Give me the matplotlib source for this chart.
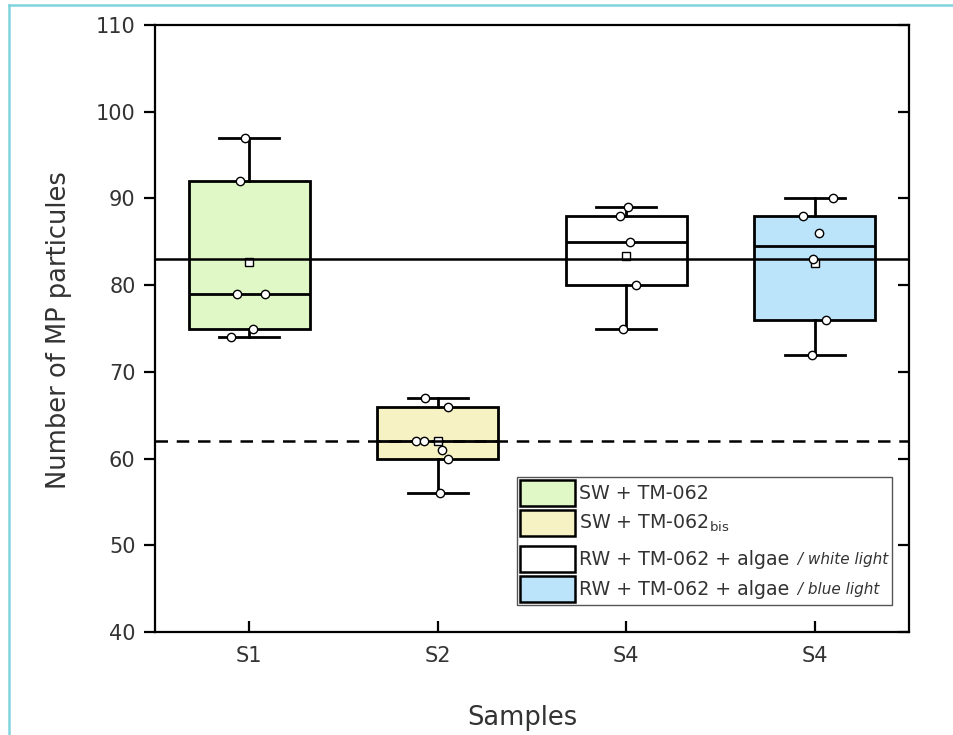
import numpy as np
import matplotlib
matplotlib.use("Agg")
import matplotlib.pyplot as plt
from matplotlib.lines import Line2D
from matplotlib.patches import Rectangle
from matplotlib.offsetbox import (TextArea, DrawingArea, HPacker, VPacker,
                                  AnchoredOffsetbox)

# --- data ---
labels = ["S1", "S2", "S4", "S4"]
s1 = [97, 92, 79, 79, 75, 74]
s2 = [67, 66, 62, 62, 61, 60, 56]
s4_white = [89, 88, 85, 80, 75]
s4_blue = [90, 88, 86, 83, 76, 72]
# horizontal offsets of the dots (as seen in the figure)
jit1 = [-0.02, -0.05, -0.065, 0.085, 0.02, -0.095]
jit2 = [-0.07, 0.055, -0.115, -0.075, 0.025, 0.055, 0.01]
jit3 = [0.01, -0.035, 0.02, 0.05, -0.015]
jit4 = [0.095, -0.06, 0.02, -0.01, 0.06, -0.015]

q1 = [75, 60, 80, 76]
med = [79, 62, 85, 84.5]
q3 = [92, 66, 88, 88]
whislo = [74, 56, 75, 72]
whishi = [97, 67, 89, 90]

ref_solid = 83
ref_dashed = 62

legend_main = ["SW + TM-062", "SW + TM-062$_{\\mathregular{bis}}$",
               "RW + TM-062 + algae", "RW + TM-062 + algae"]
legend_extra = ["", "", " / white light", " / blue light"]

colors = ["#E0F8C6", "#F6F2C4", "#FFFFFF", "#BBE4FB"]
txt_col = "#333333"

plt.rcParams['font.family'] = ['DejaVu Sans']

fig = plt.figure(figsize=(9.54, 7.35), dpi=100)
ax = fig.add_axes([155/954, 1-632/735, (909-155)/954, (632-25)/735])

groups = [s1, s2, s4_white, s4_blue]
jits = [jit1, jit2, jit3, jit4]
stats = []
for i, g in enumerate(groups):
    stats.append(dict(med=med[i], q1=q1[i], q3=q3[i], whislo=whislo[i],
                      whishi=whishi[i], mean=np.mean(g), fliers=[]))

pos = np.arange(1, 5)
bp = ax.bxp(stats, positions=pos, widths=0.64, capwidths=0.32,
            patch_artist=True, showmeans=True, showfliers=False,
            boxprops=dict(linewidth=2, edgecolor='black'),
            medianprops=dict(color='black', linewidth=2),
            whiskerprops=dict(color='black', linewidth=2),
            capprops=dict(color='black', linewidth=2),
            meanprops=dict(marker='s', markerfacecolor='white',
                           markeredgecolor='black', markersize=6,
                           markeredgewidth=1))
for patch, c in zip(bp['boxes'], colors):
    patch.set_facecolor(c)

ax.axhline(ref_solid, color='black', lw=1.8, zorder=3)
ax.axhline(ref_dashed, color='black', lw=1.8, ls=(0, (5, 3.5)), zorder=3)

for p, g, j in zip(pos, groups, jits):
    ax.plot(p + np.array(j), g, 'o', ms=6, mfc='white', mec='black',
            mew=1, zorder=5, ls='none')

ax.set_xlim(0.5, 4.5)
ax.set_ylim(40, 110)
ax.set_yticks(np.arange(40, 111, 10))
ax.set_xticks(pos)
ax.set_xticklabels(labels)

for s in ax.spines.values():
    s.set_linewidth(1.6)
ax.yaxis.set_ticks_position('both')
ax.tick_params(axis='y', which='both', direction='out', length=8, width=1.6,
               labelsize=15, labelcolor=txt_col, pad=6)
for t in ax.yaxis.get_major_ticks():
    t.tick2line.set_marker(matplotlib.markers.TICKLEFT)
ax.tick_params(axis='x', direction='in', length=8, width=1.6,
               labelsize=15, labelcolor=txt_col, pad=10, top=False)

ax.set_ylabel("Number of MP particules", fontsize=18.5, color=txt_col)
ax.yaxis.set_label_coords(-0.11, 0.4975)
ax.set_xlabel("Samples", fontsize=18.5, color=txt_col)
ax.xaxis.set_label_coords(0.487, -0.12)

# --- custom legend ---
rows = []
for i in range(4):
    da = DrawingArea(39, 18.5, 0, 0)
    da.add_artist(Rectangle((0, 0), 39, 18.5, facecolor=colors[i],
                            edgecolor='black', linewidth=1.8))
    parts = [da, TextArea(legend_main[i],
                          textprops=dict(fontsize=13.7, color=txt_col))]
    if legend_extra[i]:
        parts.append(TextArea(legend_extra[i],
                              textprops=dict(fontsize=11, color=txt_col,
                                             style='italic')))
    rows.append(HPacker(children=parts, align='center', pad=0, sep=3))
    if i == 1:
        rows.append(DrawingArea(1, 1.5, 0, 0))
box = VPacker(children=rows, align='left', pad=0, sep=3)
anch = AnchoredOffsetbox(loc='upper left', child=box, pad=0.25,
                         borderpad=0, frameon=True,
                         bbox_to_anchor=((517-155)/754, (632-477)/607),
                         bbox_transform=ax.transAxes)
anch.patch.set_edgecolor('#555555')
anch.patch.set_linewidth(1.0)
anch.patch.set_boxstyle('square', pad=0)
ax.add_artist(anch)

# cyan frame of the screenshot
fig.add_artist(Line2D([9/954, 9/954], [0, 1-5/735], color='#80D4DE',
                      lw=1.8, transform=fig.transFigure))
fig.add_artist(Line2D([9/954, 1], [1-5/735, 1-5/735], color='#80D4DE',
                      lw=1.8, transform=fig.transFigure))

fig.savefig("out.png", dpi=100)
